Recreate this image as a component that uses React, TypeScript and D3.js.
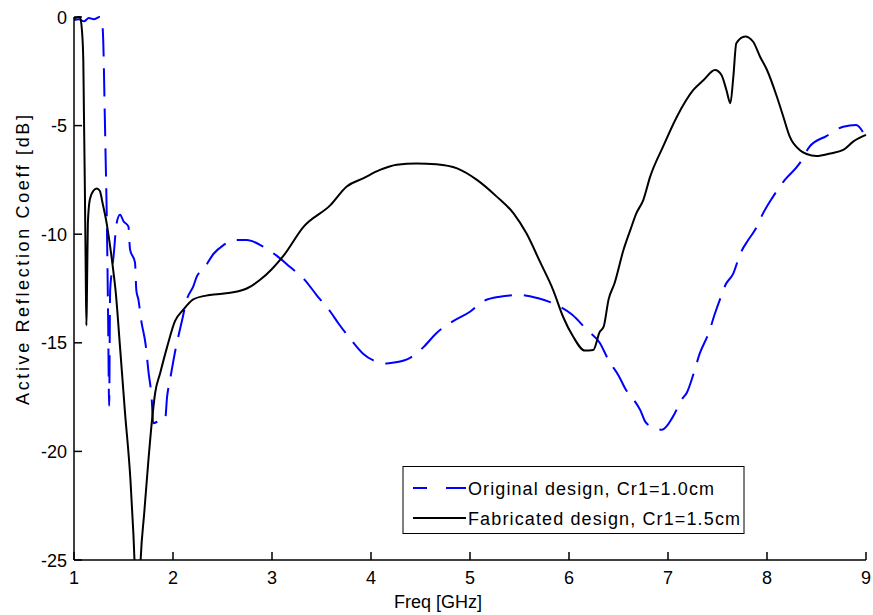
import React from "react";
import * as d3 from "d3";

const xTicks = [1, 2, 3, 4, 5, 6, 7, 8, 9];
const yTicks = [0, -5, -10, -15, -20, -25];

const origFreq = [1.0, 1.05, 1.1, 1.15, 1.2, 1.26, 1.286, 1.296, 1.31, 1.32, 1.33, 1.345, 1.355, 1.365, 1.38, 1.40, 1.43, 1.465, 1.50, 1.55, 1.566, 1.616, 1.63, 1.65, 1.68, 1.727, 1.75, 1.785, 1.80, 1.86, 1.92, 1.94, 1.97, 2.03, 2.09, 2.14, 2.205, 2.24, 2.31, 2.41, 2.51, 2.61, 2.745, 2.91, 3.05, 3.18, 3.33, 3.45, 3.59, 3.67, 3.80, 3.92, 4.02, 4.16, 4.25, 4.39, 4.53, 4.66, 4.83, 5.0, 5.13, 5.30, 5.505, 5.69, 5.875, 6.03, 6.18, 6.31, 6.40, 6.50, 6.58, 6.65, 6.72, 6.77, 6.85, 6.94, 7.05, 7.14, 7.19, 7.26, 7.32, 7.41, 7.475, 7.525, 7.58, 7.66, 7.73, 7.81, 7.88, 7.96, 8.05, 8.18, 8.32, 8.43, 8.60, 8.77, 8.90, 9.0];
const origDb = [-0.14, -0.1, -0.2, -0.05, -0.1, 0, -0.3, -1.2, -4.3, -6.6, -8.9, -14, -17.9, -12.6, -11.8, -11.0, -9.5, -9.1, -9.4, -9.65, -10.7, -11.3, -12.6, -13.0, -14.0, -15.2, -16.25, -17.6, -18.7, -18.6, -18.55, -17.5, -16.7, -15.2, -14.0, -13.0, -12.4, -11.95, -11.6, -10.9, -10.5, -10.27, -10.27, -10.57, -11.0, -11.5, -12.1, -12.8, -13.57, -14.1, -14.87, -15.5, -15.8, -15.95, -15.9, -15.7, -15.2, -14.56, -14.0, -13.57, -13.1, -12.88, -12.8, -12.95, -13.26, -13.7, -14.4, -15.0, -15.8, -16.5, -17.2, -17.6, -18.1, -18.63, -18.9, -19.0, -18.4, -17.6, -17.3, -16.4, -15.5, -14.56, -13.64, -13.0, -12.34, -11.8, -10.9, -10.27, -9.8, -9.04, -8.35, -7.5, -6.8, -5.97, -5.48, -5.05, -4.97, -5.58];

const fabFreq = [1.0, 1.06, 1.08, 1.094, 1.10, 1.11, 1.118, 1.125, 1.13, 1.14, 1.16, 1.195, 1.23, 1.26, 1.29, 1.33, 1.36, 1.40, 1.42, 1.465, 1.515, 1.57, 1.60, 1.63, 1.645, 1.66, 1.673, 1.71, 1.75, 1.785, 1.82, 1.87, 1.94, 2.02, 2.10, 2.205, 2.37, 2.58, 2.745, 2.88, 3.0, 3.115, 3.32, 3.59, 3.755, 3.92, 4.09, 4.26, 4.46, 4.66, 4.87, 5.07, 5.27, 5.44, 5.57, 5.71, 5.84, 5.94, 6.04, 6.16, 6.245, 6.31, 6.35, 6.40, 6.46, 6.55, 6.62, 6.68, 6.75, 6.82, 6.95, 7.09, 7.256, 7.36, 7.475, 7.54, 7.59, 7.63, 7.66, 7.69, 7.78, 7.86, 7.93, 8.0, 8.10, 8.165, 8.23, 8.33, 8.40, 8.50, 8.64, 8.77, 8.87, 9.0];
const fabDb = [-0.06, 0, -0.6, -2.0, -4.3, -8.0, -11.5, -14.2, -13.0, -9.5, -8.4, -8.0, -7.9, -8.0, -8.6, -9.5, -10.4, -11.8, -12.6, -15.2, -18.2, -21.3, -23.8, -27.0, -27.5, -26.5, -25.0, -22.8, -20.5, -18.7, -17.3, -16.4, -15.2, -14.0, -13.5, -13.0, -12.8, -12.7, -12.5, -12.1, -11.6, -11.0, -9.65, -8.66, -7.8, -7.43, -7.04, -6.8, -6.74, -6.78, -6.97, -7.5, -8.27, -9.04, -9.96, -11.3, -12.57, -13.8, -14.7, -15.36, -15.33, -14.5, -14.26, -13.0, -12.26, -10.73, -9.8, -9.04, -8.43, -7.35, -5.97, -4.59, -3.36, -2.9, -2.44, -2.67, -3.36, -3.97, -2.75, -1.21, -0.9, -1.14, -1.83, -2.44, -3.67, -4.59, -5.51, -6.12, -6.31, -6.4, -6.28, -6.12, -5.74, -5.43];

const seriesNames = ["Original design, Cr1=1.0cm", "Fabricated design, Cr1=1.5cm"];

const W = 873;
const H = 615;
const L = 74, R = 866, T = 17, B = 560;
const FONT = "'Liberation Sans', Arial, Helvetica, sans-serif";

export default function App() {
  const x = d3.scaleLinear().domain([1, 9]).range([L, R]);
  const y = d3.scaleLinear().domain([-25, 0]).range([B, T]);
  const line = d3
    .line<[number, number]>()
    .x((d) => x(d[0]))
    .y((d) => y(d[1]))
    .curve(d3.curveMonotoneX);
  const orig = origFreq.map((f, i) => [f, origDb[i]] as [number, number]);
  const fab = fabFreq.map((f, i) => [f, fabDb[i]] as [number, number]);

  return (
    <svg width={W} height={H} style={{ position: "absolute", left: 0, top: 0, background: "#fff" }}>
      <defs>
        <clipPath id="plotClip">
          <rect x={L} y={T - 6} width={R - L + 4} height={B - T + 6} />
        </clipPath>
      </defs>
      <rect x={0} y={0} width={W} height={H} fill="#fff" />
      <g clipPath="url(#plotClip)" fill="none" strokeLinejoin="round">
        <path d={line(orig) || ""} stroke="#0000ff" strokeWidth={2} strokeDasharray="28 12" />
        <path d={line(fab) || ""} stroke="#000" strokeWidth={2} />
      </g>
      {/* axes */}
      <line x1={L} x2={L} y1={T} y2={B} stroke="#000" strokeWidth={1.5} />
      <line x1={L} x2={R} y1={B} y2={B} stroke="#000" strokeWidth={1.5} />
      {xTicks.map((t) => (
        <g key={"x" + t}>
          <line x1={x(t)} x2={x(t)} y1={B} y2={B - 8} stroke="#000" strokeWidth={1.5} />
          <text x={x(t)} y={584} textAnchor="middle" fontFamily={FONT} fontSize={18} fill="#000">
            {t}
          </text>
        </g>
      ))}
      {yTicks.map((t) => (
        <g key={"y" + t}>
          <line x1={L} x2={L + 8} y1={y(t)} y2={y(t)} stroke="#000" strokeWidth={1.5} />
          <text x={67} y={y(t) + 6.5} textAnchor="end" fontFamily={FONT} fontSize={18} fill="#000">
            {t}
          </text>
        </g>
      ))}
      <text x={438} y={608} textAnchor="middle" fontFamily={FONT} fontSize={18} fill="#000">
        Freq [GHz]
      </text>
      <text
        transform={`translate(29,260) rotate(-90)`}
        textAnchor="middle"
        fontFamily={FONT}
        fontSize={18}
        fill="#000"
        textLength={290}
        lengthAdjust="spacing"
      >
        Active Reflection Coeff [dB]
      </text>
      {/* legend */}
      <g>
        <rect x={403} y={466.5} width={341} height={67} fill="#fff" stroke="#000" strokeWidth={1} />
        <line x1={413} x2={427} y1={488} y2={488} stroke="#0000ff" strokeWidth={2} />
        <line x1={446} x2={466} y1={488} y2={488} stroke="#0000ff" strokeWidth={2} />
        <line x1={413} x2={466} y1={518} y2={518} stroke="#000" strokeWidth={2} />
        <text x={468} y={494.5} fontFamily={FONT} fontSize={18} fill="#000" textLength={246} lengthAdjust="spacing">
          {seriesNames[0]}
        </text>
        <text x={468} y={524.5} fontFamily={FONT} fontSize={18} fill="#000" textLength={272} lengthAdjust="spacing">
          {seriesNames[1]}
        </text>
      </g>
    </svg>
  );
}
